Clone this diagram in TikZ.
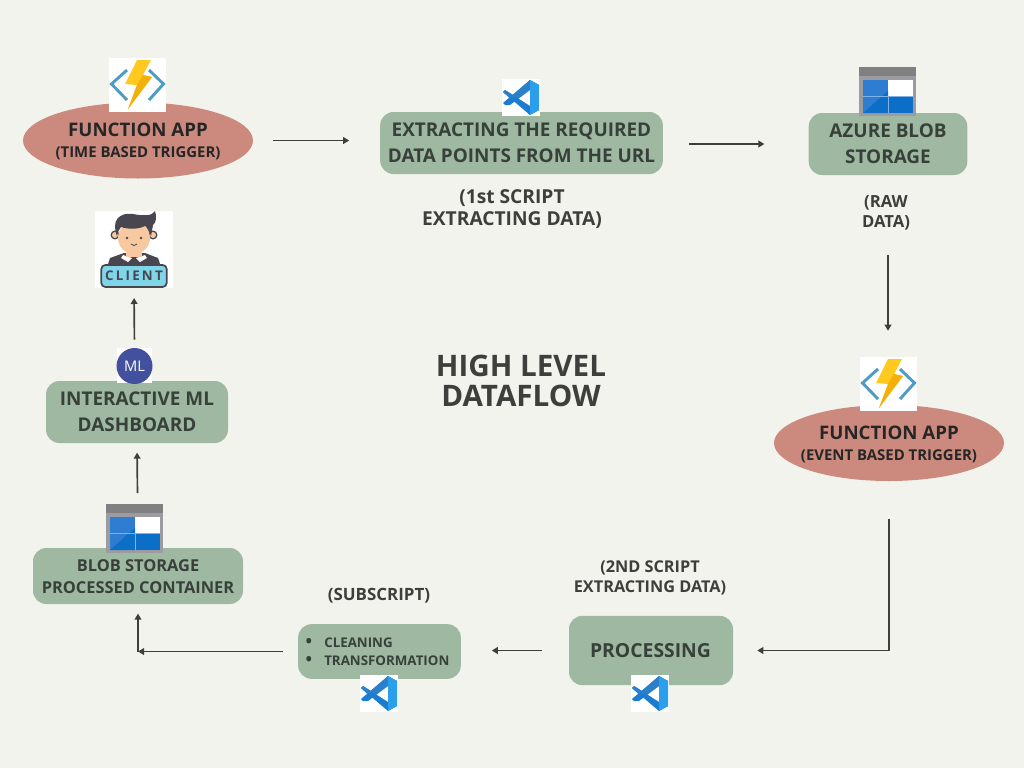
\documentclass[tikz,border=0pt]{standalone}
\usepackage{fontspec}
\setmainfont{Open Sans}
\usetikzlibrary{shapes.geometric, arrows.meta, calc}
\definecolor{paper}{RGB}{242, 243, 236}
\definecolor{sage}{RGB}{159, 184, 162}
\definecolor{clay}{RGB}{204, 138, 126}
\definecolor{ink}{RGB}{55, 65, 58}
\definecolor{inkgray}{RGB}{62, 62, 60}
\definecolor{funcblue}{RGB}{76, 156, 199}
\definecolor{boltyellow}{RGB}{255, 201, 31}
\definecolor{boltdark}{RGB}{244, 176, 10}
\definecolor{codeblue}{RGB}{43, 159, 235}
\definecolor{codemid}{RGB}{28, 124, 208}
\definecolor{codedark}{RGB}{44, 128, 201}
\definecolor{blobgray}{RGB}{155, 155, 160}
\definecolor{blobbar}{RGB}{128, 128, 128}
\definecolor{blobblue}{RGB}{47, 125, 208}
\definecolor{blobdeep}{RGB}{11, 110, 199}
\definecolor{hair}{RGB}{74, 70, 80}
\definecolor{skin}{RGB}{247, 201, 160}
\definecolor{signblue}{RGB}{127, 214, 232}
\definecolor{mlblue}{RGB}{66, 80, 158}
\newcommand{\fpx}[2]{\fontsize{#1}{#2}\selectfont\bfseries}
\tikzset{
  stepbox/.style={draw=none, fill=sage, rounded corners=10pt, inner sep=0pt, text=ink, align=center},
  trigger/.style={ellipse, fill=clay, inner sep=0pt, minimum width=172.5pt, minimum height=57pt},
  lbl/.style={text=inkgray, align=center, inner sep=0pt},
  flow/.style={color=inkgray, line width=1.25pt, -{Triangle[length=4.5pt, width=5pt]}},
  pics/funcicon/.style={code={
    \fill [white] (0, 0) rectangle (57, 54);
    \draw [funcblue, line width=2.2pt] (18, 12) -- (2.5, 26) -- (18, 42);
    \draw [funcblue, line width=2.2pt] (40, 12) -- (54.5, 26) -- (40, 42);
    \fill [boltyellow] (28, 2) -- (42, 2) -- (34, 17) -- (43, 19) -- (19, 51) -- (28, 27) -- (16, 26) -- cycle;
    \fill [boltdark] (34, 17) -- (43, 19) -- (19, 51) -- (28, 27) -- cycle;
  }},
  pics/codeicon/.style={code={
    \fill [white] (0, 0) rectangle (38, 37);
    \fill [codemid] (28, 1) -- (37, 6) -- (28, 11) -- (8, 26) -- (3, 26) -- (1, 24) -- cycle;
    \fill [codemid] (1, 13) -- (3, 11) -- (28, 27) -- (37, 31) -- (28, 36) -- cycle;
    \fill [codedark] (28, 1) -- (11, 16) -- (3, 11) -- (1, 13) -- (7, 18.5) -- (17, 18.5) -- (28, 10) -- cycle;
    \fill [codeblue] (28, 1) -- (37, 6) -- (37, 31) -- (28, 36) -- cycle;
  }},
  pics/blobicon/.style={code={
    \fill [blobgray] (0, 2) rectangle (57, 49);
    \fill [blobbar] (0, 0) rectangle (57, 9);
    \fill [blobblue] (4, 13) rectangle (29, 29);
    \fill [white] (29, 13) rectangle (54, 29);
    \fill [blobblue] (4, 29) rectangle (29, 46);
    \fill [blobdeep] (29, 29) rectangle (54, 46);
    \fill [blobdeep] (4, 46) -- (29, 46) -- (29, 24) -- cycle;
    \draw [blobblue!60!white, line width=0.4pt] (4, 29) -- (54, 29) (29, 29) -- (29, 46);
  }},
  pics/clienticon/.style={code={
    \fill [white] (0, 0) rectangle (78, 77);
    \fill [hair] (12, 56) -- (15, 47) -- (29, 42) -- (50, 42) -- (63, 47) -- (66, 56) -- cycle;
    \fill [white] (28, 44) -- (37, 47) -- (33, 51) -- (26, 47) -- cycle;
    \fill [white] (50, 44) -- (41, 47) -- (45, 51) -- (52, 47) -- cycle;
    \fill [skin] (31, 36) rectangle (47, 46);
    \fill [hair] (20, 24) circle (4.5) (58, 24) circle (4.5);
    \fill [skin] (20, 24) circle (3) (58, 24) circle (3);
    \fill [skin] (39, 27) circle (16);
    \fill [hair] (22, 25) .. controls (16, 10) and (24, 1) .. (38, 3) .. controls (48, 5) and (58, 5) .. (60, 0)
      .. controls (62, 6) and (61, 12) .. (58, 14) -- (56, 25) .. controls (53, 19) and (52, 16) .. (50, 15)
      .. controls (42, 19) and (32, 18) .. (26, 16) .. controls (24, 18) and (23, 21) .. (22, 25) -- cycle;
    \fill [hair] (32, 27) circle (1.3) (46, 27) circle (1.3);
    \draw [hair, line width=0.6pt] (36, 33) .. controls (38, 35) and (40, 35) .. (42, 33);
    \node (clientsign) [draw=hair, fill=signblue, line width=1.3pt, rounded corners=3pt, inner sep=0pt,
      minimum width=49pt, minimum height=16.5pt, text=hair, font=\fontsize{10}{10}\selectfont\bfseries] at (39, 65)
      {C\,L\,I\,E\,N\,T};
  }},
}
\begin{document}
\begin{tikzpicture}[x=0.75pt, y=-0.75pt]
  \fill [paper] (0, 0) rectangle (1024, 768);
  \useasboundingbox (0, 0) rectangle (1024, 768);

  \node (func1) [trigger] at (138, 140.5) {};
  \node (func2) [trigger] at (889, 443) {};
  \node (extract) [stepbox, minimum width=212pt, minimum height=46.5pt] at (521.5, 143) {};
  \node (blobraw) [stepbox, minimum width=119pt, minimum height=46.5pt] at (888, 144) {};
  \node (dashboard) [stepbox, minimum width=136.5pt, minimum height=46.5pt] at (137, 412) {};
  \node (blobproc) [stepbox, minimum width=157.5pt, minimum height=42pt] at (138, 576) {};
  \node (subscript) [stepbox, minimum width=122pt, minimum height=41pt] at (379.5, 651.5) {};
  \node (processing) [stepbox, minimum width=123pt, minimum height=52pt] at (651, 650.5) {};

  % icons
  \pic at (109, 58) {funcicon};
  \pic at (860, 357) {funcicon};
  \foreach \x/\y in {502/79, 360/675, 631/675} {
    \pic at (\x, \y) {codeicon};
  }
  \foreach \x/\y in {859/67, 106/504} {
    \pic at (\x, \y) {blobicon};
  }
  \pic at (95, 211) {clienticon};
  \coordinate (client) at (134, 288);

  \fill [white] (117, 348) rectangle (152, 383);
  \node (mlbadge) [circle, fill=mlblue, minimum size=27pt, inner sep=0pt, text=white] at (134.5, 366)
    {\fontsize{11}{11}\selectfont ML};

  % labels
  \node at (138, 130) [text=black!85, font=\fpx{14}{16}] {FUNCTION APP};
  \node at (138, 153) [text=black!85, font=\fpx{11.2}{13}] {(TIME BASED TRIGGER)};
  \node at (889, 433) [text=black!85, font=\fpx{14}{16}] {FUNCTION APP};
  \node at (889, 456) [text=black!85, font=\fpx{11.2}{13}] {(EVENT BASED TRIGGER)};

  \node at (521.5, 143) [text=ink, align=center, font=\fpx{14.2}{19.5}] {EXTRACTING THE REQUIRED\\DATA POINTS FROM THE URL};
  \node at (888, 143.5) [text=ink, align=center, font=\fpx{14.2}{19.5}] {AZURE BLOB\\STORAGE};
  \node at (137, 411.5) [text=ink, align=center, font=\fpx{14.2}{19.5}] {INTERACTIVE ML\\DASHBOARD};
  \node at (138, 576.5) [text=ink, align=center, font=\fpx{12.3}{16.5}] {BLOB STORAGE\\PROCESSED CONTAINER};
  \node at (650.5, 651) [text=ink, font=\fpx{14.5}{16}] {PROCESSING};
  \node at (309, 642.5) [text=ink, font=\fpx{13}{12}] {\textbullet};
  \node at (309, 660.5) [text=ink, font=\fpx{13}{12}] {\textbullet};
  \node at (324, 642.5) [text=ink, anchor=west, inner sep=0pt, font=\fpx{10}{12}] {CLEANING};
  \node at (324, 660.5) [text=ink, anchor=west, inner sep=0pt, font=\fpx{10}{12}] {TRANSFORMATION};

  \node at (512, 209) [lbl, font=\fpx{14.4}{16.5}] {(1st SCRIPT\\EXTRACTING DATA)};
  \node at (886, 213) [lbl, font=\fpx{12.5}{14.5}] {(RAW\\DATA)};
  \node at (650, 578) [lbl, font=\fpx{12.2}{14.5}] {(2ND SCRIPT\\EXTRACTING DATA)};
  \node at (379, 595.5) [lbl, font=\fpx{12.7}{14.5}] {(SUBSCRIPT)};
  \node at (521, 380.5) [lbl, font=\fpx{22.2}{22.5}] {HIGH LEVEL\\DATAFLOW};

  % connectors
  \draw [flow, shorten <=15pt, shorten >=23pt] (func1.east) -- (func1.east -| extract.west);
  \draw [flow, shorten <=19.5pt, shorten >=33pt] (extract.east |- blobraw.west) -- (blobraw.west);
  \draw [flow, shorten <=60pt, shorten >=55.5pt] (blobraw.south) -- (blobraw.south |- func2.north);
  \draw [flow, shorten <=28.5pt, shorten >=18pt] (func2.south) |- (processing.east);
  \draw [flow, shorten <=20pt, shorten >=23pt] (processing.west) -- (processing.west -| subscript.east);
  \coordinate (turn) at (blobproc.south |- subscript.west);
  \draw [flow, shorten <=11pt] (subscript.west) -- (turn);
  \draw [flow, shorten >=7pt] (turn) -- (blobproc.south);
  \draw [flow, shorten <=41pt, shorten >=7pt] (blobproc.north) -- (dashboard.south);
  \draw [flow, shorten <=6pt, shorten >=7.5pt] (mlbadge.north) -- (client);
\end{tikzpicture}
\end{document}
